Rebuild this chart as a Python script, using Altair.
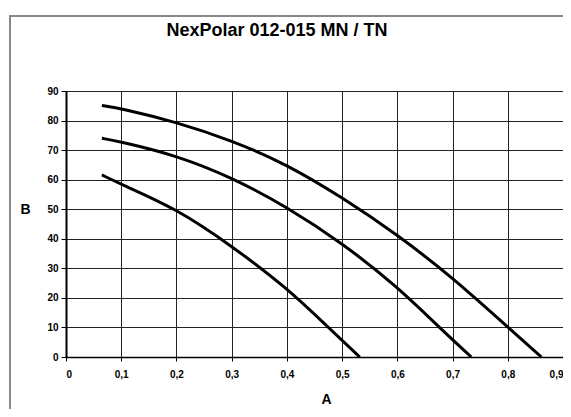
import altair as alt
import pandas as pd

# Curve data
top_x = [0.065, 0.1, 0.2, 0.3, 0.4, 0.5, 0.6, 0.7, 0.8, 0.861]
top_y = [85.1, 84.1, 79.5, 73.3, 65.2, 54.0, 41.4, 26.9, 10.1, 0.0]

mid_x = [0.065, 0.1, 0.2, 0.3, 0.4, 0.5, 0.6, 0.676, 0.734]
mid_y = [74.0, 72.8, 68.2, 60.8, 50.8, 38.6, 23.8, 10.0, 0.0]

low_x = [0.065, 0.1, 0.2, 0.3, 0.4, 0.475, 0.532]
low_y = [61.6, 58.4, 50.2, 37.6, 23.4, 10.0, 0.0]

x_ticks = [0, 0.1, 0.2, 0.3, 0.4, 0.5, 0.6, 0.7, 0.8, 0.9]
y_ticks = [0, 10, 20, 30, 40, 50, 60, 70, 80, 90]

title_text = "NexPolar 012-015 MN / TN"

rows = []
for name, xs, ys in [("top", top_x, top_y), ("mid", mid_x, mid_y), ("low", low_x, low_y)]:
    for i, (a, b) in enumerate(zip(xs, ys)):
        rows.append({"series": name, "A": a, "B": b, "order": i})
df = pd.DataFrame(rows)

FONT = "Liberation Sans"

lines = alt.Chart(df).mark_line(color="black", strokeWidth=3, interpolate="basis").encode(
    x=alt.X(
        "A:Q",
        scale=alt.Scale(domain=[0, 0.9], nice=False, zero=False),
        axis=alt.Axis(
            values=x_ticks,
            labelExpr="datum.value == 0 ? '0' : replace(format(datum.value, '.1f'), '.', ',')",
            title="A",
            titleX=260,
            titleY=46,
            titleAlign="center",
            titleBaseline="alphabetic",
            tickSize=4,
            labelPadding=8,
            domainWidth=1.5,
        ),
    ),
    y=alt.Y(
        "B:Q",
        scale=alt.Scale(domain=[0, 90], nice=False),
        axis=alt.Axis(
            values=y_ticks,
            title="B",
            titleAngle=0,
            titleX=-41,
            titleY=118,
            titleAlign="center",
            titleBaseline="middle",
            tickSize=5,
            labelPadding=3,
            domainWidth=2,
        ),
    ),
    detail="series:N",
    order="order:Q",
)

single = alt.Data(values=[{"k": 0}])
frame_v = alt.Chart(single).mark_rule(color="#888888", strokeWidth=2).encode(
    x=alt.value(-56), y=alt.value(-76), y2=alt.value(400)
)
frame_h = alt.Chart(single).mark_rule(color="#888888", strokeWidth=2).encode(
    x=alt.value(-57), x2=alt.value(505), y=alt.value(-75)
)
title = alt.Chart(single).mark_text(
    font=FONT, fontSize=18, fontWeight="bold", color="black",
    align="center", baseline="alphabetic",
).encode(
    x=alt.value(211), y=alt.value(-55), text=alt.value(title_text)
)

chart = alt.layer(frame_v, frame_h, title, lines).properties(
    width=497,
    height=266,
    background="white",
    autosize=alt.AutoSizeParams(type="none"),
    padding={"left": 58, "top": 83, "right": 0, "bottom": 52},
).configure_view(
    stroke="black", strokeWidth=1
).configure_axis(
    labelFont=FONT,
    labelFontSize=10,
    labelFontWeight="bold",
    labelColor="black",
    titleFont=FONT,
    titleFontSize=14,
    titleFontWeight="bold",
    titleColor="black",
    gridColor="#222222",
    gridOpacity=1,
    gridWidth=1,
    tickColor="black",
    domainColor="black",
)

chart.save("out.html", embed_options={"renderer": "svg", "actions": False})
